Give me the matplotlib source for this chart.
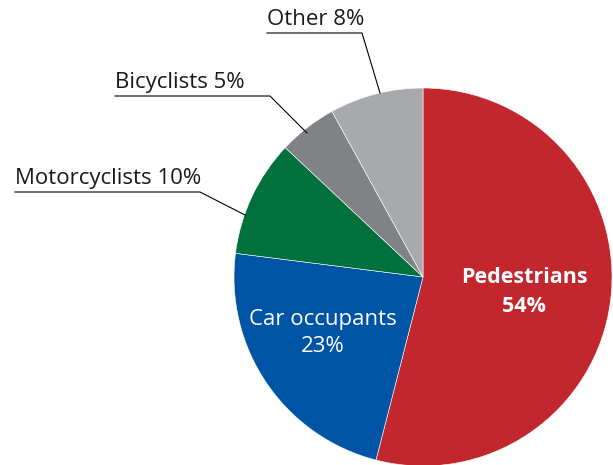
import matplotlib.pyplot as plt

labels = ["Pedestrians", "Car occupants", "Motorcyclists", "Bicyclists", "Other"]
shares = [54, 23, 10, 5, 8]
colors = ["#C1272D", "#0054A6", "#00703C", "#808285", "#A7A9AC"]

plt.rcParams['font.family'] = ['Open Sans', 'DejaVu Sans']

fig = plt.figure(figsize=(6.13, 4.65), dpi=100)
ax = fig.add_axes([0, 0, 1, 1])

cx, cy, r = 423, 188, 189
ax.pie(shares, colors=colors, startangle=90, counterclock=False,
       center=(cx, cy), radius=r, frame=True,
       wedgeprops=dict(edgecolor='white', linewidth=0.4))
ax.set_xlim(0, 613)
ax.set_ylim(0, 465)
ax.set_aspect('equal')
ax.axis('off')

# labels inside
ax.text(524, 173, f"{labels[0]}\n{shares[0]}%", color='white', fontsize=15.5,
        fontweight='bold', ha='center', va='center', linespacing=1.45)
ax.text(323, 132, f"{labels[1]}\n{shares[1]}%", color='white', fontsize=16,
        ha='center', va='center', linespacing=1.4)

# outside labels with leader lines
outside = [
    (labels[2], shares[2], 15, 200, 273, 245, 250),
    (labels[3], shares[3], 115, 270, 369, 307, 332),
    (labels[4], shares[4], 267, 362, 432, 380, 372),
]
for name, val, x0, x1, yl, xe, ye in outside:
    ax.text(x0, yl + 3, f"{name} {val}%", fontsize=16, ha='left', va='bottom',
            color='#1a1a1a')
    ax.plot([x0, x1, xe], [yl, yl, ye], color='black', linewidth=0.8)

fig.savefig("out.png", dpi=100)
